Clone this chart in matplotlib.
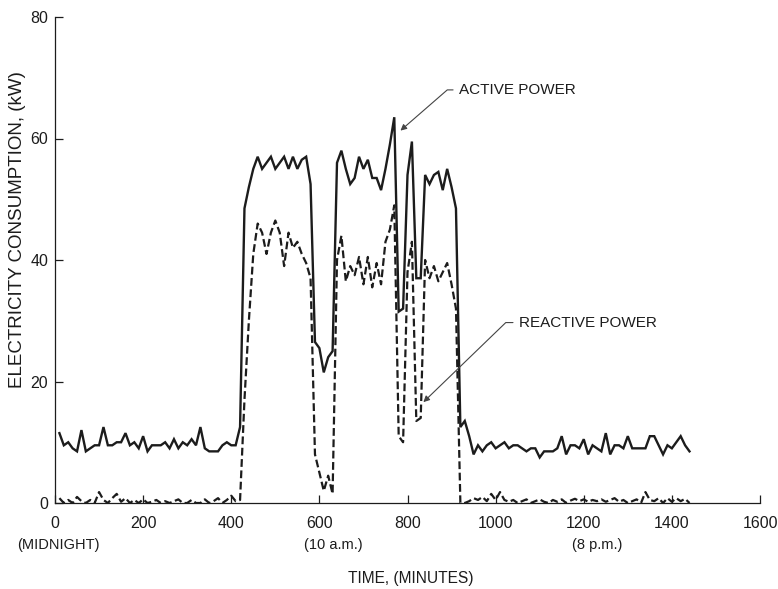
import matplotlib
matplotlib.use("Agg")
import matplotlib.pyplot as plt
import numpy as np

plt.rcParams['font.family'] = ['Liberation Sans', 'DejaVu Sans']

# sample times, every 10 minutes
minutes = np.arange(10, 1450, 10)

# active power (kW), one row per 2 hours
active = [
    11.5, 9.5, 10, 9, 8.5, 12, 8.5, 9, 9.5, 9.5, 12.5, 9.5,
    9.5, 10, 10, 11.5, 9.5, 10, 9, 11, 8.5, 9.5, 9.5, 9.5,
    10, 9, 10.5, 9, 10, 9.5, 10.5, 9.5, 12.5, 9, 8.5, 8.5,
    8.5, 9.5, 10, 9.5, 9.5, 12.5, 48.5, 52, 55, 57, 55, 56,
    57, 55, 56, 57, 55, 57, 55, 56.5, 57, 52.5, 26.5, 25.5,
    21.5, 24, 25, 56, 58, 55, 52.5, 53.5, 57, 55, 56.5, 53.5,
    53.5, 51.5, 55, 59, 63.5, 31.5, 32, 54, 59.5, 37, 37, 54,
    52.5, 54, 54.5, 51.5, 55, 52, 48.5, 12.5, 13.5, 11, 8, 9.5,
    8.5, 9.5, 10, 9, 9.5, 10, 9, 9.5, 9.5, 9, 8.5, 9,
    9, 7.5, 8.5, 8.5, 8.5, 9, 11, 8, 9.5, 9.5, 9, 10.5,
    8, 9.5, 9, 8.5, 11.5, 8, 9.5, 9.5, 9, 11, 9, 9,
    9, 9, 11, 11, 9.5, 8, 9.5, 9, 10, 11, 9.5, 8.5,
]

# reactive power (kW)
reactive = [
    0.8, 0, 0.5, 0, 1, 0.3, 0, 0.5, 0, 1.8, 0.5, 0,
    0.8, 1.5, 0.2, 0.8, 0, 0.5, 0, 0.6, 0, 0.2, 0.5, 0,
    0.3, 0, 0.3, 0.6, 0, 0, 0.5, 0, 0, 0.6, 0, 0.3,
    0.8, 0, 0.5, 1.2, 0.3, 0.5, 17, 30, 41, 46, 44.5, 41,
    44.5, 46.5, 44.5, 39, 44.5, 42, 43, 41, 39.5, 37, 8, 5,
    2, 4.5, 1.5, 40, 44, 36.5, 39, 37.5, 40.5, 36, 40.5, 35.5,
    39.5, 36, 43, 45, 49, 11, 10, 38, 43, 13.5, 14, 40,
    37, 39, 36.5, 38, 39.5, 36, 32, 0, 0, 0.3, 0.8, 0.5,
    1, 0.3, 1.5, 0.5, 1.8, 0.5, 0.2, 0.5, 0, 0.3, 0.6, 0,
    0.3, 0.6, 0.2, 0, 0.5, 0.2, 0.6, 0, 0.4, 0.7, 0.3, 0.6,
    0.2, 0.5, 0.3, 0.6, 0.2, 0.5, 0.8, 0.2, 0.5, 0, 0.3, 0.6,
    0, 1.8, 0.5, 0.3, 0.8, 0, 0.8, 0.2, 0.8, 0.3, 0.7, 0,
]

xticks = [0, 200, 400, 600, 800, 1000, 1200, 1400, 1600]
yticks = [0, 20, 40, 60, 80]
time_notes = [(8, "(MIDNIGHT)"), (632, "(10 a.m.)"), (1230, "(8 p.m.)")]

ink = '#1c1c1c'
fig = plt.figure(figsize=(7.78, 5.89), dpi=100)
ax = fig.add_axes([55 / 778, 1 - 503 / 589, 705 / 778, 486 / 589])

ax.plot(minutes, active, color=ink, lw=1.7, solid_joinstyle='miter')
ax.plot(minutes, reactive, color=ink, lw=1.6, dashes=(3.5, 1.6))

ax.set_xlim(0, 1600)
ax.set_ylim(0, 80)
ax.set_xticks(xticks)
ax.set_yticks(yticks)
for s in ['top', 'right']:
    ax.spines[s].set_visible(False)
for s in ['left', 'bottom']:
    ax.spines[s].set_linewidth(0.9)
    ax.spines[s].set_color(ink)
ax.tick_params(direction='in', length=6, width=0.9, colors=ink, labelsize=11.5)
ax.tick_params(axis='x', pad=9)
ax.tick_params(axis='y', pad=5)

for x, s in time_notes:
    ax.text(x, -0.086, s, transform=ax.get_xaxis_transform(), ha='center', va='center',
            fontsize=10.5, color=ink)

fig.text(411 / 778, 1 - 578 / 589, "TIME, (MINUTES)", ha='center', va='center',
         fontsize=11.2, color=ink)
fig.text(18 / 778, 1 - 230 / 589, "ELECTRICITY CONSUMPTION, (kW)", rotation=90,
         ha='center', va='center', fontsize=13.5, color=ink)

arrow = dict(arrowstyle='-|>', color='#444444', lw=0.8, mutation_scale=9,
             shrinkA=2, shrinkB=0)
ax.annotate("ACTIVE POWER", xy=(784, 61.3), xytext=(916, 68), fontsize=11, color=ink,
            ha='left', va='center',
            arrowprops=dict(arrow, connectionstyle='angle,angleA=0,angleB=41,rad=0'))
ax.annotate("REACTIVE POWER", xy=(836, 16.6), xytext=(1052, 29.7), fontsize=11, color=ink,
            ha='left', va='center',
            arrowprops=dict(arrow, connectionstyle='angle,angleA=0,angleB=44,rad=0'))

fig.savefig("out.png", dpi=100)
